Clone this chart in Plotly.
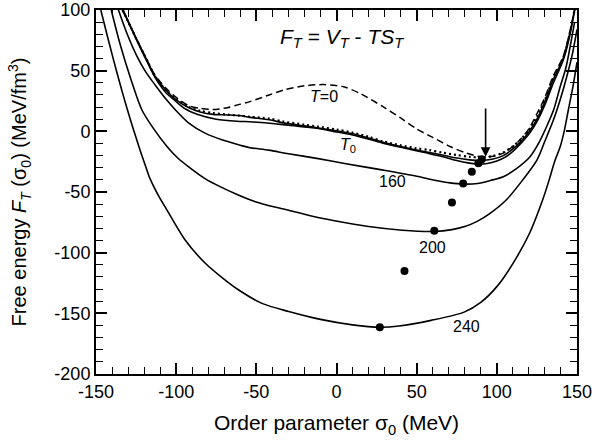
import plotly.graph_objects as go

# ---------------- data ----------------
t0_dashed_x = [-133.5, -128, -123.5, -118, -113, -106, -100, -92, -85, -77, -68, -61, -54, -42, -33, -20, -8, 5, 15, 29, 40, 50, 60, 70.8, 80, 90, 98, 104, 110, 114.5, 120, 125, 130, 135, 141.5, 145, 148.5]
t0_dashed_y = [100, 85, 73, 58, 46, 35, 28, 21, 19, 18, 19.5, 22, 24.5, 30, 34, 37.5, 38.5, 36.5, 31, 20.3, 11, 2, -5, -12.5, -17.5, -21, -20.5, -18, -12.5, -7, 2, 14.5, 28, 45, 62, 79, 100]

dotted_x = [-133.5, -128, -123.5, -118, -113, -106.5, -100, -92, -85, -77, -68, -61, -54, -42, -33, -20, -12, 0, 10, 20, 29, 40, 50, 58, 66, 75, 83, 90, 97, 104, 110, 115, 120, 125, 130, 135, 141.5, 145, 148.5]
dotted_y = [100, 85, 72.5, 58, 45, 34, 26.5, 20, 17, 15, 13.8, 13, 12, 10.5, 8, 5.5, 4, 1.5, -1, -4.5, -8.3, -11.5, -14, -15.5, -17.5, -19.5, -21, -21.5, -20.5, -17.5, -12.5, -6.5, 1, 12, 26, 43, 61, 78, 100]

upper_x = [-133.5, -128, -123.5, -118, -113, -106.5, -100, -92, -85, -77, -68, -61, -54, -42, -33, -20, -12, 0, 10, 20, 29, 40, 50, 58, 66, 75, 83, 90, 97, 104, 110, 115, 120, 125, 130, 135, 141.5, 145, 148.5]
upper_y = [100, 85, 72.5, 58, 45, 34, 26, 19.5, 16, 14, 13.5, 13, 11.5, 9.5, 7, 4.5, 3, 0.5, -2, -5.5, -9, -12.5, -15.5, -17.5, -19.5, -22, -23.5, -24, -23, -20, -14.5, -8.5, -0.5, 10, 24.5, 42, 60.5, 77.5, 100]

tzero_x = [-133, -128, -123.5, -118, -113, -106.5, -100.5, -95, -87, -75, -62, -54, -43, -30, -12, 0, 10, 29, 45, 55, 66.5, 75, 82, 88, 94, 100, 105, 110, 115, 120.5, 125, 130, 135, 141.5, 145, 148.5]
tzero_y = [100, 85, 72, 57, 44, 32, 25, 19, 14, 10, 8.3, 7.9, 6.9, 5, 2.5, -0.5, -3, -9.7, -14.5, -17.5, -21, -24, -26, -27, -26.5, -24.5, -21.5, -16.5, -10, -1.5, 8, 22, 39, 59, 76, 100]

t160_x = [-136, -130.5, -124.5, -119, -113, -106, -100, -92.3, -82, -71.5, -60, -54, -42.3, -30, -12.3, 5, 29.2, 50, 62, 70.8, 79, 88, 96, 104, 112, 120.7, 126, 131, 135.5, 139.5, 143, 145.7, 148.5]
t160_y = [100, 80, 62, 49, 38, 26, 17, 7, -1.5, -7, -11.5, -13.5, -15.5, -18.5, -22.3, -26.5, -32, -37, -40.5, -42.5, -43.5, -43, -40.5, -37.4, -31, -21, -10, 3.8, 18, 36.8, 52, 69.7, 90]

t200_x = [-140.5, -135, -128.5, -121.5, -114, -106, -99, -92, -82, -72, -62, -50.6, -40, -29.8, -15, -2, 20, 41, 61, 72, 80, 88, 96, 106, 116.3, 125, 130, 135.3, 139.5, 143.6, 147, 150]
t200_y = [100, 72, 44, 18, 2, -12, -22, -29.5, -39, -46, -52, -58, -62, -65, -70, -73.5, -78.5, -81.5, -82.5, -81, -78.5, -74, -67.4, -56.4, -39.8, -23.7, -8, 9.3, 26, 45, 63, 84]

t240_x = [-147, -143, -139, -135, -131, -127, -123, -119, -116.3, -110, -107, -94.4, -82, -70, -61, -46.5, -29.8, -10, 10, 27, 39, 59, 79.6, 90, 100, 110, 120.4, 128.6, 132.7, 136, 139.5, 142, 144.6, 147.5, 150]
t240_y = [100, 79, 58.5, 39, 20.5, 3, -13.5, -29, -39, -55.5, -62, -89.6, -108.5, -122, -130.8, -141.8, -148.5, -155, -159.5, -161.5, -160.5, -155.8, -149, -141, -128, -109, -84, -56.4, -39.8, -25, -12.7, 0, 17.6, 37, 57]

minima_x = [90.6, 88.5, 84.4, 79, 72, 61, 42.4, 27]
minima_y = [-23, -26.4, -33.3, -43, -58.6, -82, -115.2, -161.5]

curve_labels = ["<i>T</i>=0", "<i>T</i><sub>0</sub>", "160", "200", "240"]
label_x = [-8, 7, 35, 60, 81]
label_y = [29, -11.5, -41, -96, -161]

title_text = "<i>F<sub>T</sub></i> = <i>V<sub>T</sub></i> - <i>TS<sub>T</sub></i>"
title_x, title_y = 3.7, 77

arrow_x = [93, 93]
arrow_y = [20, -21]

x_ticks = [-150, -100, -50, 0, 50, 100, 150]
x_ticktext = ["-150", "-100", "-50", "0", "50", "100", "150"]
y_ticks = [-200, -150, -100, -50, 0, 50, 100]
y_ticktext = ["-200", "-150", "-100", "-50", "0", "50", "100"]

# ---------------- figure ----------------
FONT = "Liberation Sans, Arial, Helvetica, sans-serif"
fig = go.Figure()

def add_curve(xs, ys, dash="solid", width=1.6):
    fig.add_trace(go.Scatter(x=xs, y=ys, mode="lines",
                             line=dict(color="black", width=width, dash=dash,
                                       shape="spline", smoothing=0.8),
                             showlegend=False, hoverinfo="skip"))

add_curve(t0_dashed_x, t0_dashed_y, dash="7px,4px", width=1.5)
add_curve(dotted_x, dotted_y, dash="2px,3px", width=2.2)
add_curve(upper_x, upper_y)
add_curve(tzero_x, tzero_y)
add_curve(t160_x, t160_y)
add_curve(t200_x, t200_y)
add_curve(t240_x, t240_y)

fig.add_trace(go.Scatter(x=minima_x, y=minima_y, mode="markers",
                         marker=dict(color="black", size=8),
                         showlegend=False, hoverinfo="skip"))

for t, lx, ly in zip(curve_labels, label_x, label_y):
    fig.add_annotation(x=lx, y=ly, text=t, showarrow=False,
                       font=dict(family=FONT, size=16, color="black"))

fig.add_annotation(x=title_x, y=title_y, text=title_text,
                   showarrow=False, font=dict(family=FONT, size=21, color="black"))

fig.add_annotation(x=arrow_x[1], y=arrow_y[1], ax=arrow_x[0], ay=arrow_y[0],
                   xref="x", yref="y", axref="x", ayref="y", text="",
                   showarrow=True, arrowhead=2, arrowsize=1.2, arrowwidth=1.6,
                   arrowcolor="black")

axis_common = dict(showgrid=False, zeroline=False, showline=True, linecolor="black",
                   linewidth=2, mirror="ticks", ticks="inside", ticklen=11,
                   tickwidth=1.5, tickcolor="black", automargin=False,
                   ticklabeloverflow="allow",
                   tickfont=dict(family=FONT, size=18, color="black"))

fig.update_xaxes(range=[-150, 150], tickvals=x_ticks, ticktext=x_ticktext,
                 minor=dict(dtick=10, ticks="inside", ticklen=7, tickwidth=1.2,
                            tickcolor="black", showgrid=False),
                 title=dict(text="Order parameter σ<sub>0</sub> (MeV)",
                            font=dict(family=FONT, size=21, color="black"), standoff=15),
                 **axis_common)
fig.update_yaxes(range=[-200, 100], tickvals=y_ticks, ticktext=y_ticktext,
                 minor=dict(dtick=10, ticks="inside", ticklen=7, tickwidth=1.2,
                            tickcolor="black", showgrid=False),
                 title=dict(text="Free energy <i>F</i><sub><i>T</i></sub> (σ<sub>0</sub>) (MeV/fm<sup>3</sup>)",
                            font=dict(family=FONT, size=20, color="black"), standoff=22),
                 **axis_common)

fig.update_layout(width=600, height=443, template="none",
                  margin=dict(l=96, r=23, t=10, b=69, autoexpand=False),
                  plot_bgcolor="white", paper_bgcolor="white",
                  font=dict(family=FONT, color="black"))

fig.write_html("out.html", config={"displayModeBar": False},
               post_script="document.body.style.margin='0px';")
